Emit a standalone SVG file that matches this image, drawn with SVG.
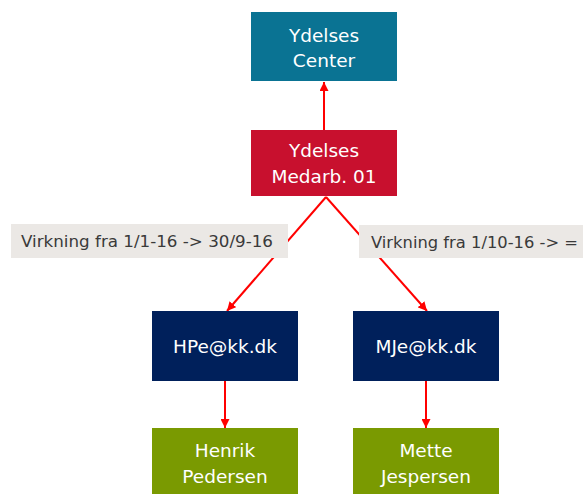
<svg xmlns="http://www.w3.org/2000/svg" width="583" height="494" viewBox="0 0 583 494">
<style>
.nt{font-family:"DejaVu Sans","Liberation Sans",sans-serif;font-size:18.5px;fill:#ffffff;text-anchor:middle}
.lt{font-family:"DejaVu Sans","Liberation Sans",sans-serif;font-size:15.5px;fill:#3a3a3a}
.c{stroke:#ff0000;stroke-width:2;fill:none}
</style>
<defs>
<marker id="ah" viewBox="0 0 10 10" refX="10" refY="5" markerWidth="4.5" markerHeight="4.5" orient="auto" markerUnits="strokeWidth">
<path d="M0,0 L10,5 L0,10 Z" fill="#ff0000"/>
</marker>
</defs>
<rect width="583" height="494" fill="#ffffff"/>
<g id="connectors">
<line class="c" x1="324" y1="130" x2="324" y2="82" marker-end="url(#ah)"/>
<line class="c" x1="326" y1="197" x2="227" y2="311" marker-end="url(#ah)"/>
<line class="c" x1="326" y1="197" x2="427" y2="311" marker-end="url(#ah)"/>
<line class="c" x1="225" y1="381" x2="225" y2="428" marker-end="url(#ah)"/>
<line class="c" x1="426" y1="381" x2="426" y2="428" marker-end="url(#ah)"/>
</g>
<g id="label-left">
<rect x="11" y="224" width="277" height="34" fill="#ebe8e5"/>
<text class="lt" x="21" y="247" textLength="252" lengthAdjust="spacingAndGlyphs">Virkning fra 1/1-16 -&gt; 30/9-16</text>
</g>
<g id="label-right">
<rect x="359" y="225" width="224" height="33" fill="#ebe8e5"/>
<text class="lt" x="371" y="248" textLength="207" lengthAdjust="spacingAndGlyphs">Virkning fra 1/10-16 -&gt; =</text>
</g>
<g id="ydelses-center">
<rect x="251" y="12" width="146" height="69" fill="#0a7393"/>
<text class="nt" x="324" y="42">Ydelses</text>
<text class="nt" x="324" y="67">Center</text>
</g>
<g id="ydelses-medarb">
<rect x="251" y="130" width="146" height="66" fill="#c8102e"/>
<text class="nt" x="324" y="157">Ydelses</text>
<text class="nt" x="324" y="183">Medarb. 01</text>
</g>
<g id="hpe">
<rect x="152" y="311" width="146" height="70" fill="#00205b"/>
<text class="nt" x="225" y="353">HPe@kk.dk</text>
</g>
<g id="mje">
<rect x="353" y="311" width="146" height="70" fill="#00205b"/>
<text class="nt" x="426" y="353">MJe@kk.dk</text>
</g>
<g id="henrik">
<rect x="152" y="428" width="146" height="66" fill="#7a9a01"/>
<text class="nt" x="225" y="457">Henrik</text>
<text class="nt" x="225" y="483">Pedersen</text>
</g>
<g id="mette">
<rect x="353" y="428" width="146" height="66" fill="#7a9a01"/>
<text class="nt" x="426" y="457">Mette</text>
<text class="nt" x="426" y="483">Jespersen</text>
</g>
</svg>
